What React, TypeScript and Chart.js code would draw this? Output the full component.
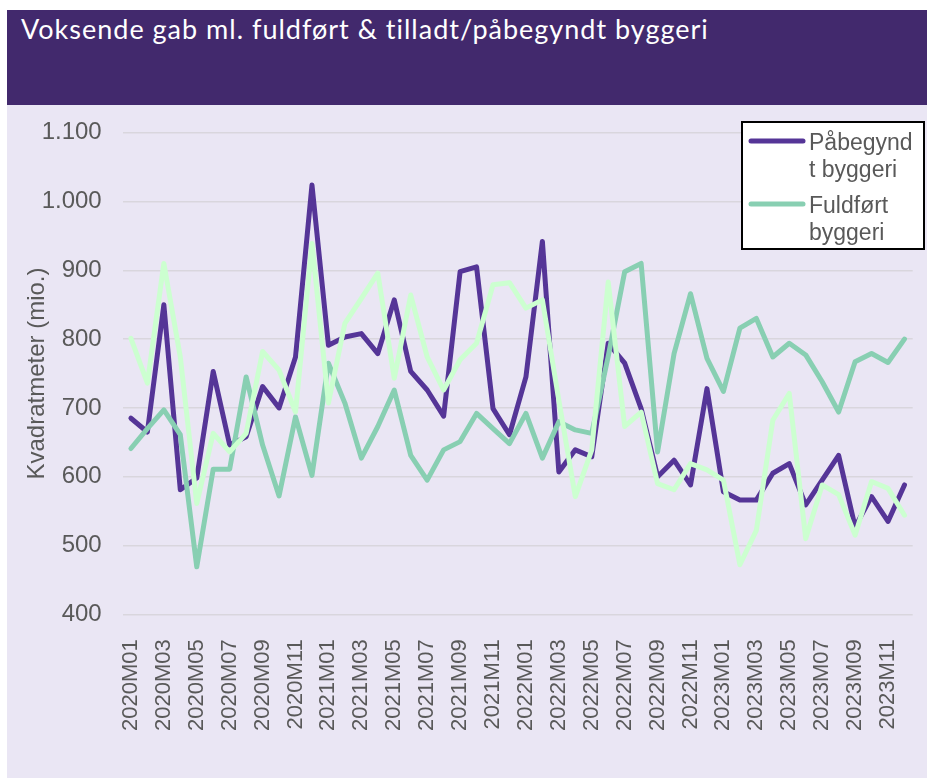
import React, { useEffect, useRef } from "react";
import { Chart, registerables } from "chart.js";

Chart.register(...registerables);

const MONTHS = [
  "2020M01", "2020M02", "2020M03", "2020M04", "2020M05", "2020M06", "2020M07", "2020M08", "2020M09", "2020M10", "2020M11", "2020M12",
  "2021M01", "2021M02", "2021M03", "2021M04", "2021M05", "2021M06", "2021M07", "2021M08", "2021M09", "2021M10", "2021M11", "2021M12",
  "2022M01", "2022M02", "2022M03", "2022M04", "2022M05", "2022M06", "2022M07", "2022M08", "2022M09", "2022M10", "2022M11", "2022M12",
  "2023M01", "2023M02", "2023M03", "2023M04", "2023M05", "2023M06", "2023M07", "2023M08", "2023M09", "2023M10", "2023M11", "2023M12",
];

const PAABEGYNDT = [
  685, 665, 850, 581, 598, 753, 646, 658, 731, 700, 774, 1024,
  791, 803, 808, 779, 857, 753, 726, 688, 898, 905, 699, 661,
  745, 942, 607, 639, 629, 794, 765, 699, 600, 624, 588, 728,
  578, 566, 566, 605, 619, 559, 595, 631, 527, 571, 535, 588,
];

const FULDFOERT = [
  641, 670, 697, 661, 469, 611, 611, 745, 646, 572, 687, 602,
  765, 707, 627, 673, 726, 631, 595, 639, 651, 692, 670, 648,
  692, 627, 680, 668, 663, 775, 898, 910, 636, 779, 866, 772,
  724, 816, 830, 774, 794, 777, 738, 694, 767, 779, 766, 800,
];

const TILLADT = [
  801, 736, 910, 774, 561, 663, 636, 663, 782, 755, 694, 939,
  707, 823, 859, 896, 743, 864, 774, 726, 770, 794, 879, 882,
  845, 857, 711, 571, 639, 883, 673, 694, 590, 581, 619, 610,
  595, 472, 522, 682, 721, 510, 588, 574, 515, 593, 583, 544,
];

const Y_MIN = 400;
const Y_MAX = 1100;
const Y_STEP = 100;

const TITLE = "Voksende gab ml. fuldført & tilladt/påbegyndt byggeri";
const Y_TITLE = "Kvadratmeter (mio.)";
const LEGEND_ITEMS = [
  { label: "Påbegyndt byggeri", lines: ["Påbegynd", "t byggeri"] },
  { label: "Fuldført byggeri", lines: ["Fuldført", "byggeri"] },
];

const PURPLE = "#553597";
const TEAL = "#88CFB2";
const LIGHT = "#CCFFD0";
const TEXT = "#595959";

const CANVAS_TOP = 105;
const CANVAS_W = 927;
const CANVAS_H = 673;

const PLOT_LEFT = 122.7;
const PLOT_RIGHT = 912.7;
const PLOT_TOP = 132.7;
const PLOT_BOTTOM = 614.3;

function fmtDa(v: number): string {
  if (v >= 1000) {
    return `${Math.floor(v / 1000)}.${String(v % 1000).padStart(3, "0")}`;
  }
  return String(v);
}

const boxLegend = {
  id: "boxLegend",
  afterDraw(chart: any) {
    const ctx = chart.ctx as CanvasRenderingContext2D;
    const colors = [PURPLE, TEAL];
    ctx.save();
    const bx = 742;
    const by = 122 - CANVAS_TOP;
    const bw = 182;
    const bh = 127;
    ctx.fillStyle = "#ffffff";
    ctx.fillRect(bx, by, bw, bh);
    ctx.strokeStyle = "#000000";
    ctx.lineWidth = 2;
    ctx.strokeRect(bx, by, bw, bh);
    ctx.font = "23px 'Liberation Sans', Arial, sans-serif";
    ctx.textBaseline = "alphabetic";
    ctx.textAlign = "left";
    LEGEND_ITEMS.forEach((item, i) => {
      const lineY = 141 + i * 63 - CANVAS_TOP;
      ctx.strokeStyle = colors[i];
      ctx.lineWidth = 5;
      ctx.lineCap = "round";
      ctx.beginPath();
      ctx.moveTo(751, lineY);
      ctx.lineTo(803, lineY);
      ctx.stroke();
      ctx.fillStyle = TEXT;
      item.lines.forEach((t, j) => {
        ctx.fillText(t, 809, 150 + i * 63 + j * 27 - CANVAS_TOP);
      });
    });
    ctx.restore();
  },
};

function LineChart() {
  const ref = useRef<HTMLCanvasElement | null>(null);
  useEffect(() => {
    if (!ref.current) return;
    const common = {
      borderWidth: 5,
      pointRadius: 0,
      pointHoverRadius: 0,
      tension: 0,
      borderJoinStyle: "round",
      borderCapStyle: "round",
    };
    const chart = new Chart(ref.current, {
      type: "line",
      data: {
        labels: MONTHS,
        datasets: [
          { ...common, label: LEGEND_ITEMS[0].label, data: PAABEGYNDT, borderColor: PURPLE, backgroundColor: PURPLE, order: 2 },
          { ...common, label: LEGEND_ITEMS[1].label, data: FULDFOERT, borderColor: TEAL, backgroundColor: TEAL, order: 1 },
          { ...common, label: "Tilladt byggeri", data: TILLADT, borderColor: LIGHT, backgroundColor: LIGHT, order: 0 },
        ],
      },
      options: {
        responsive: false,
        animation: false,
        devicePixelRatio: 1,
        layout: {
          padding: {
            top: PLOT_TOP - CANVAS_TOP,
            right: CANVAS_W - PLOT_RIGHT,
            left: 0,
            bottom: 0,
          },
        },
        plugins: {
          legend: { display: false },
          tooltip: { enabled: false },
          title: { display: false },
        },
        scales: {
          x: {
            type: "category",
            offset: true,
            grid: { display: false, drawTicks: false },
            border: { display: false },
            ticks: {
              autoSkip: false,
              minRotation: 90,
              maxRotation: 90,
              padding: 25,
              color: TEXT,
              font: { family: "'Liberation Sans', Arial, sans-serif", size: 22 },
              callback: (_v: any, idx: number) => (idx % 2 === 0 ? MONTHS[idx] : ""),
            },
            afterFit: (scale: any) => {
              scale.height = CANVAS_H - (PLOT_BOTTOM - CANVAS_TOP);
              scale.paddingLeft = 0;
              scale.paddingRight = 0;
            },
          },
          y: {
            min: Y_MIN,
            max: Y_MAX,
            grid: { color: "#D9D6DD", lineWidth: 1.5, drawTicks: false },
            border: { display: false },
            ticks: {
              stepSize: Y_STEP,
              padding: 21,
              color: TEXT,
              font: { family: "'Liberation Sans', Arial, sans-serif", size: 24 },
              callback: (v: any) => fmtDa(Number(v)),
            },
            title: {
              display: true,
              text: Y_TITLE,
              color: TEXT,
              font: { family: "'Liberation Sans', Arial, sans-serif", size: 24 },
              padding: { top: 23, bottom: 0 },
            },
            afterFit: (scale: any) => {
              scale.width = PLOT_LEFT;
              scale.paddingTop = 0;
              scale.paddingBottom = 0;
            },
          },
        },
      },
      plugins: [boxLegend],
    } as any);
    return () => chart.destroy();
  }, []);
  return <canvas ref={ref} width={CANVAS_W} height={CANVAS_H} style={{ display: "block", width: CANVAS_W, height: CANVAS_H }} />;
}

export default function App() {
  return (
    <div style={{ position: "absolute", left: 0, top: 0, width: 927, height: 778, background: "#ffffff", overflow: "hidden" }}>
      <div style={{ position: "absolute", left: 7, top: 10, width: 920, height: 95, background: "#42296D" }} />
      <div style={{ position: "absolute", left: 7, top: 105, width: 920, height: 673, background: "#EAE6F4" }} />
      <div
        style={{
          position: "absolute",
          left: 21,
          top: 12,
          color: "#ffffff",
          fontFamily: "Lato, 'Open Sans', sans-serif",
          fontSize: 27,
          letterSpacing: "1px",
          lineHeight: "33px",
          whiteSpace: "nowrap",
        }}
      >
        {TITLE}
      </div>
      <div style={{ position: "absolute", left: 0, top: CANVAS_TOP }}>
        <LineChart />
      </div>
    </div>
  );
}
